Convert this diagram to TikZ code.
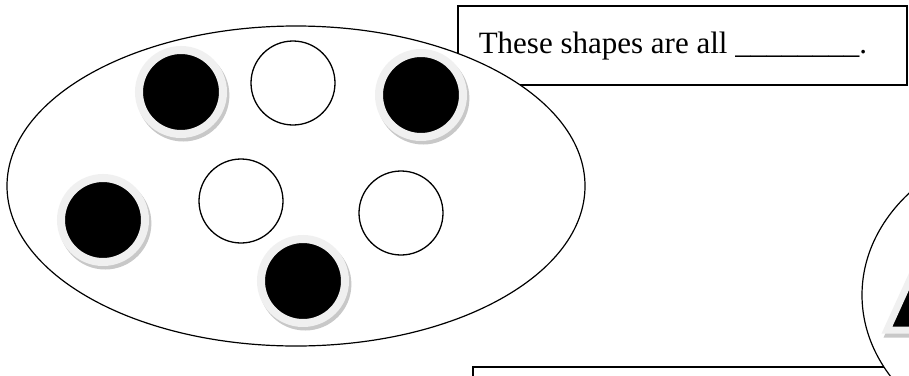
\documentclass[tikz,border=0pt]{standalone}
\usepackage{fontspec}
\setmainfont{Liberation Serif}
\usetikzlibrary{shadows}
\begin{document}
\begin{tikzpicture}[x=1pt,y=-1pt,
  rimdot/.style={circle, inner sep=0pt, outer sep=0pt, minimum size=84pt, line width=8pt, fill=black,
    draw={rgb,255:red,240;green,240;blue,240},
    drop shadow={shadow xshift=2pt, shadow yshift=-3pt, shadow scale=1.1, opacity=1, fill={rgb,255:red,200;green,200;blue,200}}},
  ring/.style={circle, inner sep=0pt, minimum size=84pt, draw, line width=1.3pt},
  qbox/.style={draw, fill=white, line width=1.5pt, anchor=north west, font=\fontsize{31}{35}\selectfont,
    inner xsep=21pt, inner ysep=10pt, text height=38pt, text depth=21pt}]
\useasboundingbox (0,0) rectangle (909,375);
\clip (0,0) rectangle (909,375);
\node[qbox] (q) at (457,5) {\makebox[407pt][l]{These shapes are all \_\_\_\_\_\_\_\_.}};
\draw[fill=white, line width=1.2pt] (296,186) ellipse [x radius=289, y radius=160];
\node[rimdot] (b1) at (181,92) {};
\node[ring] (w1) at (293,83) {};
\node[rimdot] (b2) at (421,95) {};
\node[rimdot] (b3) at (103,220) {};
\node[ring] (w2) at (241,201) {};
\node[ring] (w3) at (401,213) {};
\node[rimdot] (b4) at (303,281) {};
\draw[line width=1.5pt] (473,367) rectangle (980,420);
\draw[fill=white, line width=1.2pt] (1062,295) ellipse [x radius=200, y radius=158];
\filldraw[fill={rgb,255:red,200;green,200;blue,200}, draw={rgb,255:red,200;green,200;blue,200}, line width=7pt] (889,334) -- (934,235) -- (979,334) -- cycle;
\filldraw[fill=black, draw={rgb,255:red,240;green,240;blue,240}, line width=7pt] (887,330) -- (932,231) -- (977,330) -- cycle;
\end{tikzpicture}
\end{document}
